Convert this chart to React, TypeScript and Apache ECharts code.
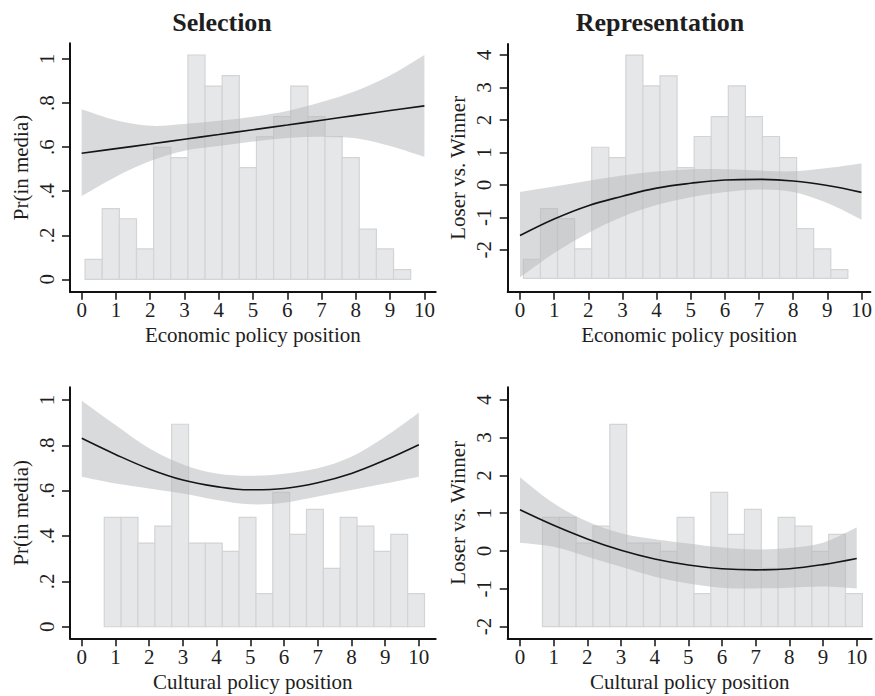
import React, { useEffect, useRef } from "react";
import * as echarts from "echarts";

// ---------- data ----------
const xTicks = [0, 1, 2, 3, 4, 5, 6, 7, 8, 9, 10];
const selTicks = [0, 0.2, 0.4, 0.6, 0.8, 1];
const repTicks = [-2, -1, 0, 1, 2, 3, 4];
const fitX = [0, 1, 2, 3, 4, 5, 6, 7, 8, 9, 10];

const econBinStart = 0.1;
const cultBinStart = 0.667;
const binWidth = 0.5;

const selEconBars = [0.091, 0.321, 0.275, 0.138, 0.599, 0.552, 1.018, 0.877, 0.924, 0.507, 0.647, 0.738, 0.877, 0.738, 0.647, 0.552, 0.228, 0.138, 0.044];
const repEconBars = [-2.29, -0.73, -1.04, -1.97, 1.16, 0.84, 4.0, 3.05, 3.36, 0.53, 1.49, 2.1, 3.05, 2.1, 1.49, 0.84, -1.35, -1.97, -2.61];
const selCultBars = [0.482, 0.482, 0.369, 0.444, 0.893, 0.369, 0.369, 0.332, 0.482, 0.146, 0.593, 0.407, 0.518, 0.257, 0.482, 0.444, 0.332, 0.407, 0.146];
const repCultBars = [0.89, 0.89, 0.21, 0.66, 3.35, 0.21, 0.21, -0.01, 0.89, -1.13, 1.55, 0.44, 1.1, -0.46, 0.89, 0.66, -0.01, 0.44, -1.13];

const selEconFit = [0.572, 0.593, 0.614, 0.636, 0.657, 0.679, 0.7, 0.722, 0.744, 0.766, 0.787];
const selEconHi = [0.772, 0.722, 0.697, 0.705, 0.72, 0.738, 0.764, 0.805, 0.855, 0.925, 1.018];
const selEconLo = [0.378, 0.466, 0.537, 0.584, 0.605, 0.625, 0.641, 0.647, 0.64, 0.605, 0.556];

const repEconFit = [-1.56, -1.05, -0.64, -0.35, -0.1, 0.05, 0.15, 0.17, 0.12, -0.02, -0.23];
const repEconHi = [-0.22, -0.05, 0.13, 0.29, 0.41, 0.48, 0.48, 0.44, 0.42, 0.52, 0.66];
const repEconLo = [-2.85, -2.1, -1.48, -0.98, -0.62, -0.38, -0.22, -0.14, -0.22, -0.56, -1.07];

const selCultFit = [0.831, 0.76, 0.696, 0.647, 0.618, 0.604, 0.61, 0.635, 0.676, 0.735, 0.803];
const selCultHi = [0.997, 0.89, 0.787, 0.716, 0.676, 0.666, 0.675, 0.699, 0.75, 0.838, 0.944];
const selCultLo = [0.662, 0.632, 0.61, 0.588, 0.559, 0.54, 0.547, 0.574, 0.603, 0.632, 0.662];

const repCultFit = [1.09, 0.68, 0.32, 0.02, -0.21, -0.37, -0.47, -0.5, -0.47, -0.36, -0.2];
const repCultHi = [1.95, 1.26, 0.78, 0.47, 0.31, 0.2, 0.09, 0.04, 0.08, 0.22, 0.62];
const repCultLo = [0.22, 0.11, -0.15, -0.42, -0.68, -0.86, -0.97, -0.99, -0.97, -0.94, -0.99];

const titles = ["Selection", "Representation"];
const xNames = ["Economic policy position", "Cultural policy position"];
const yNames = ["Pr(in media)", "Loser vs. Winner"];

// ---------- styles ----------
const FONT = "'Liberation Serif', 'Times New Roman', serif";
const TEXT = "#1e1e1e";
const AXIS = "#111";

type Panel = {
  grid: { left: number; top: number; width: number; height: number };
  xMin: number; xMax: number; yMin: number; yMax: number;
  bars: number[]; binStart: number; base: number;
  fit: number[]; hi: number[]; lo: number[];
  yTicks: number[]; yName: string; xName: string; sel: boolean;
};

const panels: Panel[] = [
  {
    grid: { left: 70, top: 43.3, width: 365.7, height: 248.4 },
    xMin: -0.34, xMax: 10.33, yMin: -0.056, yMax: 1.071,
    bars: selEconBars, binStart: econBinStart, base: 0,
    fit: selEconFit, hi: selEconHi, lo: selEconLo,
    yTicks: selTicks, yName: yNames[0], xName: xNames[0], sel: true,
  },
  {
    grid: { left: 507.7, top: 44, width: 364, height: 247.7 },
    xMin: -0.36, xMax: 10.26, yMin: -3.29, yMax: 4.34,
    bars: repEconBars, binStart: econBinStart, base: -2.88,
    fit: repEconFit, hi: repEconHi, lo: repEconLo,
    yTicks: repTicks, yName: yNames[1], xName: xNames[0], sel: false,
  },
  {
    grid: { left: 70, top: 387.3, width: 365.7, height: 251 },
    xMin: -0.35, xMax: 10.5, yMin: -0.051, yMax: 1.056,
    bars: selCultBars, binStart: cultBinStart, base: 0,
    fit: selCultFit, hi: selCultHi, lo: selCultLo,
    yTicks: selTicks, yName: yNames[0], xName: xNames[1], sel: true,
  },
  {
    grid: { left: 507.7, top: 387.3, width: 364, height: 251 },
    xMin: -0.365, xMax: 10.445, yMin: -2.31, yMax: 4.33,
    bars: repCultBars, binStart: cultBinStart, base: -2,
    fit: repCultFit, hi: repCultHi, lo: repCultLo,
    yTicks: repTicks, yName: yNames[1], xName: xNames[1], sel: false,
  },
];

function selFmt(v: number) {
  if (Math.abs(v) < 1e-9) return "0";
  if (Math.abs(v - 1) < 1e-9) return "1";
  return v.toFixed(1).replace(/^0/, "");
}

// Catmull-Rom spline through screen points, as SVG path commands (without the initial M)
function splineCmds(pts: number[][]): string {
  let d = "";
  const n = pts.length;
  for (let i = 0; i < n - 1; i++) {
    const p0 = pts[Math.max(0, i - 1)];
    const p1 = pts[i];
    const p2 = pts[i + 1];
    const p3 = pts[Math.min(n - 1, i + 2)];
    const c1x = p1[0] + (p2[0] - p0[0]) / 6;
    const c1y = p1[1] + (p2[1] - p0[1]) / 6;
    const c2x = p2[0] - (p3[0] - p1[0]) / 6;
    const c2y = p2[1] - (p3[1] - p1[1]) / 6;
    d += ` C ${c1x} ${c1y} ${c2x} ${c2y} ${p2[0]} ${p2[1]}`;
  }
  return d;
}

function buildOption() {
  const grid: any[] = [];
  const xAxis: any[] = [];
  const yAxis: any[] = [];
  const series: any[] = [];

  panels.forEach((p, i) => {
    grid.push({ ...p.grid, containLabel: false });
    xAxis.push({
      type: "value",
      gridIndex: i,
      min: p.xMin,
      max: p.xMax,
      axisLine: { show: true, onZero: false, lineStyle: { color: AXIS, width: 2 } },
      axisTick: { show: true, customValues: xTicks, length: 8, lineStyle: { color: AXIS, width: 1.5 } },
      axisLabel: { customValues: xTicks, margin: 8, fontSize: 21, fontFamily: FONT, color: TEXT },
      splitLine: { show: false },
      name: p.xName,
      nameLocation: "middle",
      nameGap: 33,
      nameTextStyle: { fontSize: 21, fontFamily: FONT, color: TEXT },
    });
    yAxis.push({
      type: "value",
      gridIndex: i,
      min: p.yMin,
      max: p.yMax,
      axisLine: { show: true, onZero: false, lineStyle: { color: AXIS, width: 2 } },
      axisTick: { show: true, customValues: p.yTicks, length: 8, lineStyle: { color: AXIS, width: 1.5 } },
      axisLabel: {
        customValues: p.yTicks,
        rotate: 90,
        margin: 13,
        fontSize: 21,
        fontFamily: FONT,
        color: TEXT,
        formatter: p.sel ? (v: number) => selFmt(v) : (v: number) => String(Math.round(v)),
      },
      splitLine: { show: false },
      name: p.yName,
      nameLocation: "middle",
      nameGap: 39,
      nameTextStyle: { fontSize: 21, fontFamily: FONT, color: TEXT },
    });

    const base = p.base;
    series.push({
      type: "custom",
      xAxisIndex: i,
      yAxisIndex: i,
      z: 1,
      data: p.bars.map((h, k) => [p.binStart + k * binWidth, p.binStart + (k + 1) * binWidth, h]),
      encode: { x: [0, 1], y: 2 },
      renderItem: (_params: any, api: any) => {
        const a = api.coord([api.value(0), api.value(2)]);
        const b = api.coord([api.value(1), base]);
        return {
          type: "rect",
          shape: { x: a[0], y: a[1], width: b[0] - a[0], height: b[1] - a[1] },
          style: { fill: "#e6e7e8", stroke: "#d3d4d6", lineWidth: 1.2 },
        };
      },
    });

    const hi = p.hi;
    const lo = p.lo;
    series.push({
      type: "custom",
      xAxisIndex: i,
      yAxisIndex: i,
      z: 2,
      data: fitX.map((x, k) => [x, lo[k], hi[k]]),
      encode: { x: 0, y: [1, 2] },
      renderItem: (params: any, api: any) => {
        if (params.dataIndex !== 0) return null;
        const up = fitX.map((x, k) => api.coord([x, hi[k]]));
        const dn = fitX.map((x, k) => api.coord([x, lo[k]])).reverse();
        const d =
          `M ${up[0][0]} ${up[0][1]}` +
          splineCmds(up) +
          ` L ${dn[0][0]} ${dn[0][1]}` +
          splineCmds(dn) +
          " Z";
        return {
          type: "path",
          shape: { pathData: d },
          style: { fill: "rgba(180,181,183,0.5)", stroke: "none" },
        };
      },
    });

    series.push({
      type: "line",
      xAxisIndex: i,
      yAxisIndex: i,
      smooth: 0.4,
      symbol: "none",
      z: 3,
      lineStyle: { color: "#151515", width: 1.6 },
      data: fitX.map((x, k) => [x, p.fit[k]]),
    });
  });

  const titleStyle = {
    align: "center",
    textAlign: "center",
    verticalAlign: "top",
    textVerticalAlign: "top",
    fontSize: 26,
    fontWeight: "bold",
    fontFamily: FONT,
    fill: TEXT,
  };

  return {
    animation: false,
    backgroundColor: "#ffffff",
    grid,
    xAxis,
    yAxis,
    series,
    graphic: [
      { type: "text", x: 222, y: 9, style: { ...titleStyle, text: titles[0] } },
      { type: "text", x: 660, y: 9, style: { ...titleStyle, text: titles[1] } },
    ],
  };
}

export default function App() {
  const ref = useRef<HTMLDivElement>(null);
  useEffect(() => {
    document.body.style.margin = "0";
    if (!ref.current) return;
    const chart = echarts.init(ref.current, undefined, { renderer: "svg" });
    chart.setOption(buildOption() as any);
    return () => chart.dispose();
  }, []);
  return <div ref={ref} style={{ width: 875, height: 696 }} />;
}
